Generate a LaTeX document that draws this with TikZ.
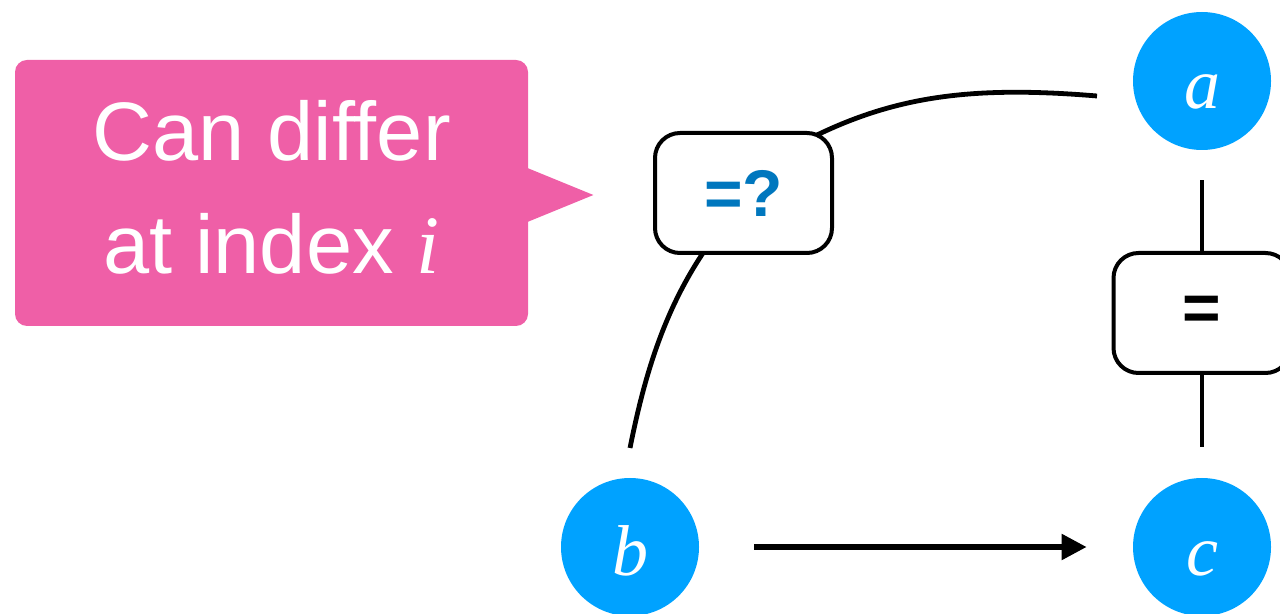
\documentclass[tikz,border=0pt]{standalone}
\usepackage{fontspec}
\setmainfont{Liberation Sans}
\newfontfamily\lserif{Liberation Serif}
\usetikzlibrary{arrows.meta,calc,backgrounds}
\definecolor{nodeblue}{RGB}{0,162,255}
\definecolor{notepink}{RGB}{239,95,167}
\definecolor{qblue}{RGB}{0,119,190}
\begin{document}
\begin{tikzpicture}[x=0.5pt,y=-0.5pt,
  var/.style={circle,fill=nodeblue,minimum size=69pt,inner sep=0pt,text=white,
    text height=34pt,text depth=6pt,
    font=\lserif\itshape\fontsize{36}{40}\selectfont},
  test/.style={draw=black,line width=2pt,rounded corners=12.5pt,fill=white,
    minimum width=88.5pt,minimum height=60pt,inner sep=0pt,
    font=\bfseries\fontsize{33}{40}\selectfont},
  note/.style={fill=notepink,rounded corners=6pt,minimum width=256.5pt,
    minimum height=133pt,inner sep=0pt,text=white,align=center,
    font=\fontsize{41.5}{56.5}\selectfont},
  edge/.style={line width=2.4pt,draw=black}]
\useasboundingbox (0,0) rectangle (1280,614);
% variables
\node[var] (a) at (1202,81) {a};
\node[var] (b) at (630,547) {b};
\node[var] (c) at (1202,547) {c};
% tests
\node[test,text=qblue] (eqq) at (743.5,193) {=?};
\node[test] (eq) at (1202,313) {=};
% curve through =?
\coordinate (ae) at (1097,96);
\coordinate (be) at (630,448);
\begin{pgfonlayer}{background}
\draw[edge] (ae) .. controls (977,86) and (900,95) .. (817,135)
  -- (703,253) .. controls (663,313) and (644,378) .. (be);
\end{pgfonlayer}
% vertical equality
\draw[edge,shorten <=15pt] (a) -- (eq);
\draw[edge,shorten >=15.5pt] (eq) -- (c);
% arrow
\draw[edge,line width=2.7pt,shorten <=27.5pt,shorten >=23pt,-{Triangle[length=12.5pt,width=12.5pt]}] (b) -- (c);
% callout
\node[note] (n) at (271.5,193) {Can differ\\at index {\lserif\itshape i}\rule[-6pt]{0pt}{0pt}};
\fill[notepink] ($(n.east)+(-1,-25)$) -- ($(n.east)+(65,2)$) -- ($(n.east)+(-1,29)$) -- cycle;
\end{tikzpicture}
\end{document}
